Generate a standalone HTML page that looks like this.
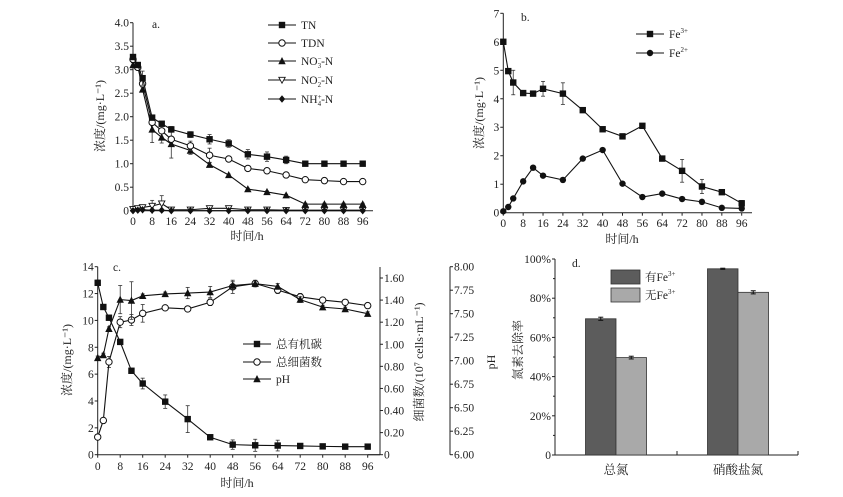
<!DOCTYPE html>
<html><head><meta charset="utf-8">
<style>
body{margin:0;background:#fff;}
svg{display:block;font-family:"Liberation Serif","Noto Serif CJK SC",serif;}
text{fill:#222;}
</style></head>
<body>
<svg id="c" width="843" height="497" viewBox="0 0 843 497"></svg>
<script>
const times=[0,2,4,8,12,16,24,32,40,48,56,64,72,80,88,96];
const tnVals=[3.27,3.1,2.82,1.98,1.85,1.73,1.62,1.52,1.43,1.2,1.15,1.08,1.0,1.0,1.0,1.0];
const tnErr=[0.05,0.05,0.15,0.05,0.05,0.06,0.06,0.1,0.08,0.1,0.1,0.08,0.03,0.03,0.04,0.03];
const tdnVals=[3.22,3.05,2.7,1.88,1.7,1.52,1.38,1.18,1.1,0.9,0.85,0.76,0.66,0.64,0.62,0.62];
const tdnErr=[0.05,0.05,0.05,0.05,0.05,0.05,0.1,0.15,0.05,0.02,0.05,0.03,0.03,0.02,0.02,0.03];
const no3Vals=[3.1,3.08,2.58,1.73,1.56,1.42,1.28,0.98,0.76,0.46,0.4,0.33,0.14,0.14,0.14,0.14];
const no3Err=[0.05,0.05,0.05,0.28,0.12,0.3,0.08,0.04,0.02,0.02,0.02,0.02,0.02,0.02,0.02,0.02];
const no2Vals=[0.03,0.05,0.07,0.1,0.15,0.02,0.02,0.05,0.05,0.02,0.02,0.01,0.01,0.01,0.01,0.01];
const no2Err=[0.02,0.02,0.03,0.12,0.17,0.02,0.02,0.02,0.04,0.01,0.01,0.01,0.01,0.01,0.01,0.01];
const nh4Vals=[0,0.01,0.02,0.01,0.01,0,0,0,0,0,0,0,0,0,0,0];
const fe3Vals=[6.0,4.97,4.57,4.2,4.18,4.35,4.18,3.6,2.93,2.68,3.05,1.9,1.47,0.92,0.72,0.33];
const fe3Err=[0.05,0.05,0.43,0.05,0.05,0.26,0.38,0.05,0.05,0.05,0.05,0.05,0.4,0.25,0.05,0.1];
const fe2Vals=[0.05,0.2,0.5,1.1,1.58,1.3,1.15,1.9,2.2,1.02,0.55,0.67,0.48,0.38,0.17,0.15];
const tocVals=[12.8,11,10.2,8.4,6.25,5.3,3.95,2.65,1.3,0.75,0.7,0.68,0.65,0.62,0.6,0.6];
const tocErr=[0.2,0.1,0.1,0.1,0.1,0.4,0.5,1.0,0.1,0.35,0.45,0.4,0.1,0.1,0.1,0.1];
const bacVals=[0.16,0.31,0.84,1.2,1.22,1.28,1.33,1.32,1.38,1.52,1.55,1.49,1.43,1.4,1.38,1.35];
const bacErr=[0.02,0.02,0.05,0.05,0.05,0.08,0.02,0.02,0.03,0.06,0.03,0.03,0.03,0.02,0.02,0.02];
const phVals=[7.03,7.06,7.34,7.65,7.64,7.69,7.71,7.72,7.73,7.8,7.82,7.79,7.65,7.57,7.55,7.5];
const phErr=[0.02,0.02,0.02,0.15,0.2,0.02,0.02,0.06,0.06,0.04,0.03,0.03,0.03,0.02,0.02,0.02];
const dCats=['总氮','硝酸盐氮'];
const withFe=[69.5,95.0];
const withFeErr=[0.8,0.3];
const withoutFe=[49.7,83.0];
const withoutFeErr=[0.7,0.8];
const xTicks=[0,8,16,24,32,40,48,56,64,72,80,88,96];

const S=document.getElementById('c');const NS='http://www.w3.org/2000/svg';
function el(t,a,p){const e=document.createElementNS(NS,t);for(const k in a)e.setAttribute(k,a[k]);(p||S).appendChild(e);return e;}
function txt(x,y,s,o,p){const e=el('text',Object.assign({x:x,y:y,'font-size':11.5},o||{}),p);e.textContent=s;return e;}
function lin(x0,x1,p0,p1){return v=>p0+(v-x0)/(x1-x0)*(p1-p0);}
function marker(g,type,x,y,r){
 r=r||3.2;let e;
 if(type==='sq')e=el('rect',{x:x-r,y:y-r,width:2*r,height:2*r,fill:'#111'},g);
 else if(type==='oc')e=el('circle',{cx:x,cy:y,r:r,fill:'#fff',stroke:'#111','stroke-width':1},g);
 else if(type==='fc')e=el('circle',{cx:x,cy:y,r:r,fill:'#111'},g);
 else if(type==='tu')e=el('polygon',{points:`${x},${y-r-0.8} ${x-r-0.5},${y+r} ${x+r+0.5},${y+r}`,fill:'#111'},g);
 else if(type==='td')e=el('polygon',{points:`${x},${y+r} ${x-r},${y-r+0.5} ${x+r},${y-r+0.5}`,fill:'#fff',stroke:'#111','stroke-width':0.9},g);
 else e=el('polygon',{points:`${x},${y-r-0.5} ${x-r},${y} ${x},${y+r+0.5} ${x+r},${y}`,fill:'#111'},g);
 return e;
}
function series(name,X,Y,vals,errs,type){
 const g=el('g',{});
 
 
 if(errs)times.forEach((t,i)=>{const x=X(t);const y1=Y(vals[i]+errs[i]),y2=Y(vals[i]-errs[i]);
  el('line',{x1:x,x2:x,y1:y1,y2:y2,stroke:'#333','stroke-width':0.8},g);
  el('line',{x1:x-2,x2:x+2,y1:y1,y2:y1,stroke:'#333','stroke-width':0.8},g);
  el('line',{x1:x-2,x2:x+2,y1:y2,y2:y2,stroke:'#333','stroke-width':0.8},g);});
 el('polyline',{points:times.map((t,i)=>X(t)+','+Y(vals[i])).join(' '),fill:'none',stroke:'#111','stroke-width':1.1},g);
 times.forEach((t,i)=>{const m=marker(g,type,X(t),Y(vals[i]));
  
  });
}
function xAxis(X,y0,xEnd,lblY,titleX,titleY){
 el('line',{x1:X(0),x2:xEnd,y1:y0,y2:y0,stroke:'#222','stroke-width':1});
 xTicks.forEach(t=>{el('line',{x1:X(t),x2:X(t),y1:y0,y2:y0+3,stroke:'#222'});
  const l=txt(X(t),lblY,String(t),{'text-anchor':'middle'});
  
  });
 const tt=txt(titleX,titleY,'时间/h',{'text-anchor':'middle','font-size':12});
 
 
}
function yAxis(Y,x,ticks,fmt,side,lo,hi,minor){
 el('line',{x1:x,x2:x,y1:Y(lo),y2:Y(hi),stroke:'#222','stroke-width':1});
 ticks.forEach(v=>{const d=side==='l'?-3:3;
  el('line',{x1:x,x2:x+d,y1:Y(v),y2:Y(v),stroke:'#222'});
  const l=txt(side==='l'?x-4:x+4,Y(v)+4,fmt(v),{'text-anchor':side==='l'?'end':'start'});
  
  });
 if(minor)minor.forEach(v=>el('line',{x1:x,x2:x+(side==='l'?-2:2),y1:Y(v),y2:Y(v),stroke:'#222'}));
}
function rotTitle(x,y,s,name){const t=txt(x,y,s,{'text-anchor':'middle','font-size':12,transform:`rotate(-90 ${x} ${y})`});
 
 }
function legendLine(x,y,type,label,name){const g=el('g',{});
 
 
 el('line',{x1:x,x2:x+28,y1:y,y2:y,stroke:'#111','stroke-width':1.1},g);marker(g,type,x+14,y);
 const t=txt(x+33,y+4,'',{'font-size':11.5},g);t.innerHTML=label;}

// Panel a
{const X=lin(0,96,133,362.7),Y=lin(0,4,210.7,22.7);
 yAxis(Y,133,[0,0.5,1,1.5,2,2.5,3,3.5,4],v=>v===0?'0':v.toFixed(1),'l',0,4);
 xAxis(X,210.7,373,225,247,240);
 rotTitle(104,116,'浓度/(mg·L⁻¹)','y-axis-title-a');
 txt(152,28,'a.',{'font-size':11.5});
 series('series-no2',X,Y,no2Vals,no2Err,'td');
 series('series-nh4',X,Y,nh4Vals,null,'dm');
 series('series-no3',X,Y,no3Vals,no3Err,'tu');
 series('series-tdn',X,Y,tdnVals,tdnErr,'oc');
 series('series-tn',X,Y,tnVals,tnErr,'sq');
 legendLine(268,25,'sq','TN','legend-tn');
 legendLine(268,43,'oc','TDN','legend-tdn');
 legendLine(268,61,'tu','NO<tspan font-size="7" dy="-4">−</tspan><tspan font-size="7" dx="-4" dy="7">3</tspan><tspan dy="-3">-N</tspan>','legend-no3');
 legendLine(268,80,'td','NO<tspan font-size="7" dy="-4">−</tspan><tspan font-size="7" dx="-4" dy="7">2</tspan><tspan dy="-3">-N</tspan>','legend-no2');
 legendLine(268,99,'dm','NH<tspan font-size="7" dy="-4">+</tspan><tspan font-size="7" dx="-4" dy="7">4</tspan><tspan dy="-3">-N</tspan>','legend-nh4');
}
// Panel b
{const X=lin(0,96,503.3,741.7),Y=lin(0,7,212.7,13.3);
 yAxis(Y,503.3,[0,1,2,3,4,5,6,7],v=>String(v),'l',0,7);
 xAxis(X,212.7,752,227,622,243);
 rotTitle(483,113,'浓度/(mg·L⁻¹)','y-axis-title-b');
 txt(521,21,'b.',{'font-size':11.5});
 series('series-fe2',X,Y,fe2Vals,null,'fc');
 series('series-fe3',X,Y,fe3Vals,fe3Err,'sq');
 legendLine(636,34,'sq','Fe<tspan font-size="7" dy="-5">3+</tspan>','legend-fe3');
 legendLine(636,53,'fc','Fe<tspan font-size="7" dy="-5">2+</tspan>','legend-fe2');
}
// Panel c
{const X=lin(0,96,97.7,367.7),Y=lin(0,14,454.7,266.7);
 const Yb=lin(0,1.6,454.7,278),Yp=lin(6,8,454.7,266.7);
 yAxis(Y,97.7,[0,2,4,6,8,10,12,14],v=>String(v),'l',0,14);
 el('line',{x1:367.7,x2:380,y1:454.7,y2:454.7,stroke:'#222'});
 yAxis(Yb,380,[0,0.2,0.4,0.6,0.8,1,1.2,1.4,1.6],v=>v===0?'0':v.toFixed(2),'r',0,1.7);
 yAxis(Yp,450,[6,6.25,6.5,6.75,7,7.25,7.5,7.75,8],v=>v.toFixed(2),'r',6,8);
 xAxis(X,454.7,380,470,237,487);
 rotTitle(71,360,'浓度/(mg·L⁻¹)','y-axis-title-c');
 rotTitle(423,362,'细菌数/(10⁷ cells·mL⁻¹)','y-axis-title-bacteria');
 rotTitle(495,362,'pH','y-axis-title-ph');
 txt(113,271,'c.',{'font-size':11.5});
 series('series-bacteria',X,Yb,bacVals,bacErr,'oc');
 series('series-ph',X,Yp,phVals,phErr,'tu');
 series('series-toc',X,Y,tocVals,tocErr,'sq');
 legendLine(243,344,'sq','总有机碳','legend-toc');
 legendLine(243,362,'oc','总细菌数','legend-bacteria');
 legendLine(243,379,'tu','pH','legend-ph');
}
// Panel d
{const Y=lin(0,100,455,259);
 yAxis(Y,555,[0,20,40,60,80,100],v=>v===0?'0':v+'%','l',0,100,[10,30,50,70,90]);
 el('line',{x1:555,x2:798,y1:455,y2:455,stroke:'#222'});
 [677,798].forEach(x=>el('line',{x1:x,x2:x,y1:455,y2:451,stroke:'#222'}));
 rotTitle(522,350,'氮素去除率','y-axis-title-d');
 txt(572,267,'d.',{'font-size':11.5});
 const centers=[616,738],bw=30.5;
 dCats.forEach((c,i)=>{
  [[withFe,withFeErr,-bw,'#5c5c5c','bar-with-fe'],[withoutFe,withoutFeErr,0,'#a9a9a9','bar-without-fe']].forEach(([v,e,off,col,nm])=>{
   const b=el('rect',{x:centers[i]+off,y:Y(v[i]),width:bw,height:455-Y(v[i]),fill:col,stroke:'#333','stroke-width':0.8});
   
   
   const cx=centers[i]+off+bw/2,y1=Y(v[i]+e[i]),y2=Y(v[i]-e[i]);
   el('line',{x1:cx,x2:cx,y1:y1,y2:y2,stroke:'#111'});
   el('line',{x1:cx-2.5,x2:cx+2.5,y1:y1,y2:y1,stroke:'#111'});
   el('line',{x1:cx-2.5,x2:cx+2.5,y1:y2,y2:y2,stroke:'#111'});
  });
  const l=txt(centers[i],474,c,{'text-anchor':'middle','font-size':12.5});
  
  
 });
 const lg=el('g',{});
 
 
 el('rect',{x:611,y:270,width:29,height:14,fill:'#5c5c5c',stroke:'#333','stroke-width':0.8},lg);
 el('rect',{x:611,y:288,width:29,height:14,fill:'#a9a9a9',stroke:'#333','stroke-width':0.8},lg);
 txt(645,281,'',{},lg).innerHTML='有Fe<tspan font-size="7" dy="-5">3+</tspan>';
 txt(645,299,'',{},lg).innerHTML='无Fe<tspan font-size="7" dy="-5">3+</tspan>';
}
</script>
</body></html>
